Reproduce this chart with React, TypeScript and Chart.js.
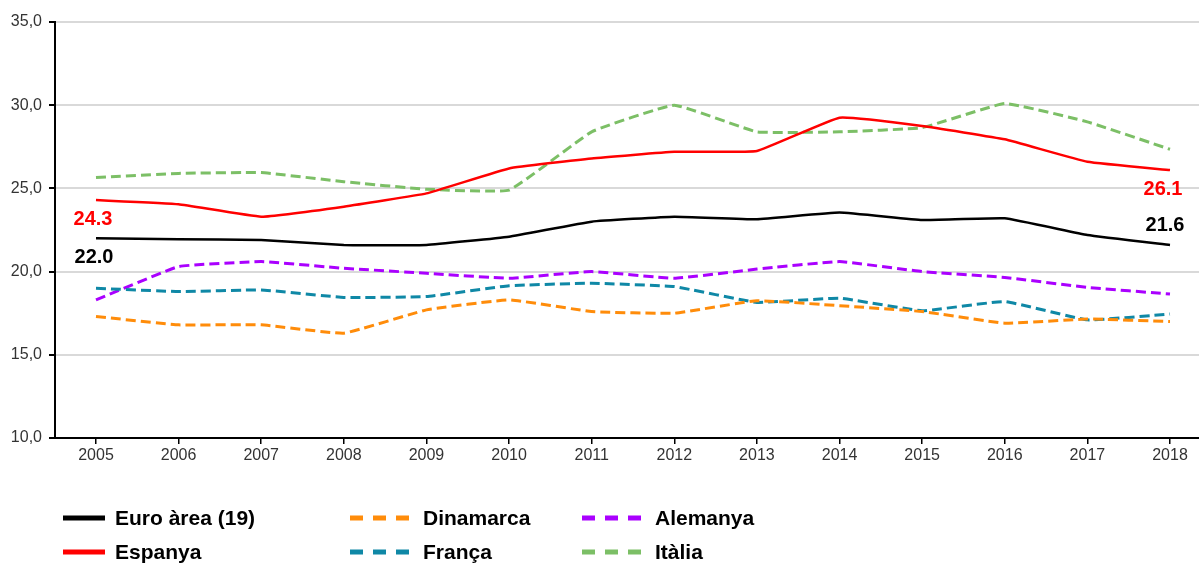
import React, { useEffect, useRef } from "react";
import { Chart, registerables } from "chart.js";

Chart.register(...registerables);

const years = [2005, 2006, 2007, 2008, 2009, 2010, 2011, 2012, 2013, 2014, 2015, 2016, 2017, 2018];
const yTicks = [10, 15, 20, 25, 30, 35];

const euroArea = [22.0, 21.95, 21.9, 21.6, 21.6, 22.1, 23.0, 23.3, 23.15, 23.55, 23.1, 23.2, 22.2, 21.6];
const espanya = [24.3, 24.05, 23.3, 23.9, 24.7, 26.2, 26.8, 27.2, 27.25, 29.25, 28.75, 27.95, 26.6, 26.1];
const dinamarca = [17.3, 16.8, 16.8, 16.3, 17.7, 18.3, 17.6, 17.5, 18.25, 17.95, 17.6, 16.9, 17.15, 17.0];
const alemanya = [18.3, 20.3, 20.6, 20.2, 19.9, 19.6, 20.0, 19.6, 20.15, 20.6, 20.0, 19.65, 19.05, 18.65];
const franca = [19.0, 18.8, 18.9, 18.45, 18.5, 19.15, 19.3, 19.1, 18.15, 18.4, 17.65, 18.2, 17.1, 17.45];
const italia = [25.65, 25.9, 25.95, 25.4, 24.95, 24.9, 28.4, 30.0, 28.4, 28.4, 28.65, 30.1, 29.0, 27.35];

const seriesNames = ["Euro àrea (19)", "Espanya", "Dinamarca", "França", "Alemanya", "Itàlia"];

const FONT = "'Liberation Sans', Arial, sans-serif";

function toPoints(values: number[]) {
  return values.map((v, i) => ({ x: years[i], y: v }));
}

const legendPlugin = {
  id: "customLegend",
  afterDraw(chart: any) {
    const ctx = chart.ctx;
    const ds = chart.data.datasets;
    const layout = [
      [0, 0], [0, 1], [1, 0], [1, 1], [2, 0], [2, 1],
    ];
    const colX = [63, 350, 582];
    const rowY = [518, 552];
    ctx.save();
    ds.forEach((d: any, i: number) => {
      const [c, r] = layout[i];
      const x = colX[c];
      const y = rowY[r];
      ctx.strokeStyle = d.borderColor;
      ctx.lineWidth = 5;
      ctx.lineCap = "butt";
      const isDashed = d.borderDash && d.borderDash.length;
      if (isDashed) {
        ctx.setLineDash([13, 10]);
        ctx.beginPath();
        ctx.moveTo(x, y);
        ctx.lineTo(x + 60, y);
        ctx.stroke();
        ctx.setLineDash([]);
      } else {
        ctx.beginPath();
        ctx.moveTo(x, y);
        ctx.lineTo(x + 42, y);
        ctx.stroke();
      }
      ctx.fillStyle = "#000";
      ctx.font = `bold 21px ${FONT}`;
      ctx.textBaseline = "middle";
      ctx.textAlign = "left";
      const tx = isDashed ? x + 73 : x + 52;
      ctx.fillText(d.label, tx, y + 1);
    });
    ctx.restore();
  },
};

const valueLabelPlugin = {
  id: "valueLabels",
  afterDatasetsDraw(chart: any) {
    const ctx = chart.ctx;
    const specs = [
      { ds: 1, idx: 0, dx: -3, dy: 19 },
      { ds: 0, idx: 0, dx: -2, dy: 19 },
      { ds: 1, idx: years.length - 1, dx: -7, dy: 19 },
      { ds: 0, idx: years.length - 1, dx: -5, dy: -19 },
    ];
    ctx.save();
    ctx.font = `bold 20px ${FONT}`;
    ctx.textAlign = "center";
    ctx.textBaseline = "middle";
    specs.forEach((s) => {
      const meta = chart.getDatasetMeta(s.ds);
      const pt = meta.data[s.idx];
      const d = chart.data.datasets[s.ds];
      const v = d.data[s.idx].y as number;
      ctx.fillStyle = d.borderColor;
      ctx.fillText(v.toFixed(1), pt.x + s.dx, pt.y + s.dy);
    });
    ctx.restore();
  },
};

export default function App() {
  const ref = useRef<HTMLCanvasElement>(null);

  useEffect(() => {
    if (!ref.current) return;
    const dashed = [10, 5];
    const chart = new Chart(ref.current, {
      type: "line",
      data: {
        datasets: [
          { label: seriesNames[0], data: toPoints(euroArea), borderColor: "#000000", borderWidth: 2.5, borderDash: [] },
          { label: seriesNames[1], data: toPoints(espanya), borderColor: "#ff0000", borderWidth: 2.5, borderDash: [] },
          { label: seriesNames[2], data: toPoints(dinamarca), borderColor: "#ff8c0a", borderWidth: 3, borderDash: dashed },
          { label: seriesNames[3], data: toPoints(franca), borderColor: "#0f88a6", borderWidth: 3, borderDash: dashed },
          { label: seriesNames[4], data: toPoints(alemanya), borderColor: "#aa00ff", borderWidth: 3, borderDash: dashed },
          { label: seriesNames[5], data: toPoints(italia), borderColor: "#7cbf66", borderWidth: 3, borderDash: dashed },
        ] as any,
      },
      options: {
        animation: false,
        responsive: false,
        maintainAspectRatio: false,
        elements: { point: { radius: 0 }, line: { tension: 0.1, fill: false } },
        layout: { padding: { top: 22, right: 0, left: 0, bottom: 0 } },
        plugins: { legend: { display: false }, tooltip: { enabled: false } },
        scales: {
          x: {
            type: "linear",
            min: 2004.504,
            max: 2018.351,
            afterBuildTicks: (scale: any) => {
              scale.ticks = years.map((v) => ({ value: v }));
            },
            afterFit: (scale: any) => {
              scale.height = 127;
            },
            grid: { drawOnChartArea: false, drawTicks: true, tickLength: 6, tickColor: "#000", lineWidth: 1.5 },
            border: { display: true, color: "#000", width: 2 },
            ticks: {
              color: "#333",
              font: { family: FONT, size: 16 },
              padding: 2,
              maxRotation: 0,
              autoSkip: false,
              callback: (v: any) => String(v),
            },
          },
          y: {
            min: 10,
            max: 35,
            afterBuildTicks: (scale: any) => {
              scale.ticks = yTicks.map((v) => ({ value: v }));
            },
            afterFit: (scale: any) => {
              scale.width = 55;
            },
            grid: { color: "#d9d9d9", lineWidth: 2, drawTicks: true, tickLength: 6, tickColor: "#000" },
            border: { display: true, color: "#000", width: 2 },
            ticks: {
              color: "#333",
              font: { family: FONT, size: 16 },
              padding: 7,
              callback: (v: any) => Number(v).toFixed(1).replace(".", ","),
            },
          },
        },
      },
      plugins: [legendPlugin, valueLabelPlugin],
    });
    return () => chart.destroy();
  }, []);

  return (
    <div style={{ position: "absolute", left: 0, top: 0, width: 1199, height: 565, background: "#fff" }}>
      <canvas ref={ref} width={1199} height={565} style={{ display: "block" }} />
    </div>
  );
}
